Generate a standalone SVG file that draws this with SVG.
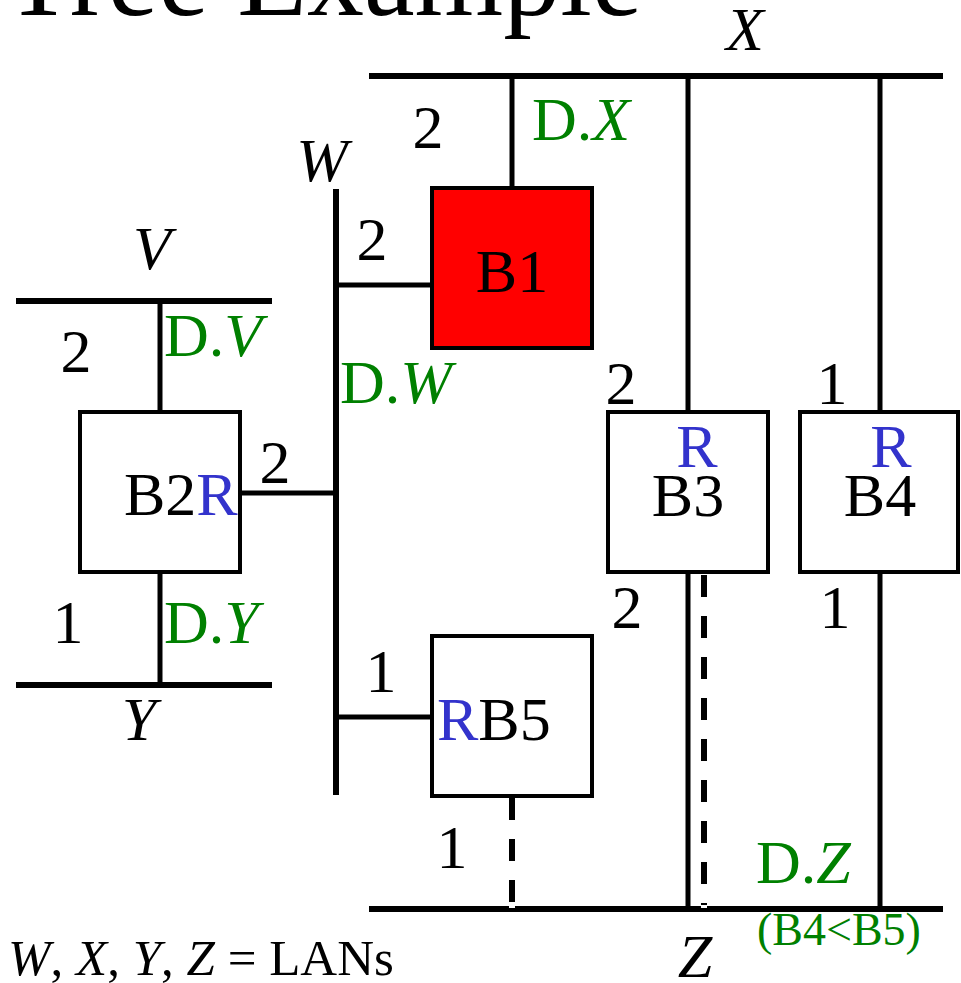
<svg xmlns="http://www.w3.org/2000/svg" width="961" height="983" viewBox="0 0 961 983">
<style>
text{font-family:"Liberation Serif","Times New Roman",serif;font-size:62px;fill:#000}
.i{font-style:italic}
.g{fill:#008000}
.b{fill:#3333cc}
.lan{stroke:#000;stroke-width:6;fill:none}
.wire{stroke:#000;stroke-width:5;fill:none}
.dash{stroke:#000;stroke-width:6;fill:none;stroke-dasharray:22 19}
.notch{stroke:#fff;stroke-width:6}
.box{stroke:#000;stroke-width:4;fill:#fff}
.mid{text-anchor:middle}
</style>
<rect width="961" height="983" fill="#fff"/>
<text x="4" y="15" style="font-size:114px">Tree Example</text>

<g id="lans">
<g id="lan-X"><line class="lan" x1="369" y1="76" x2="943" y2="76"/><text class="i mid" x="745" y="50">X</text></g>
<g id="lan-W"><line class="lan" x1="336" y1="189" x2="336" y2="795"/><text class="i mid" x="322" y="181">W</text></g>
<g id="lan-V"><line class="lan" x1="16" y1="301" x2="272" y2="301"/><text class="i mid" x="152" y="269">V</text></g>
<g id="lan-Y"><line class="lan" x1="16" y1="685" x2="272" y2="685"/><text class="i mid" x="139" y="740">Y</text></g>
<g id="lan-Z"><line class="lan" x1="369" y1="909" x2="943" y2="909"/><text class="i mid" x="695" y="977">Z</text></g>
</g>

<g id="connectors">
<line class="wire" x1="512" y1="76" x2="512" y2="188"/>
<line class="wire" x1="336" y1="285" x2="432" y2="285"/>
<line class="wire" x1="688" y1="76" x2="688" y2="412"/>
<line class="wire" x1="880" y1="76" x2="880" y2="412"/>
<line class="wire" x1="160" y1="301" x2="160" y2="412"/>
<line class="wire" x1="240" y1="493" x2="336" y2="493"/>
<line class="wire" x1="160" y1="572" x2="160" y2="685"/>
<line class="wire" x1="336" y1="717" x2="432" y2="717"/>
<line class="wire" x1="688" y1="572" x2="688" y2="909"/>
<line class="wire" x1="880" y1="572" x2="880" y2="909"/>
<line class="dash" x1="704" y1="575" x2="704" y2="906"/>
<line class="notch" x1="704" y1="905" x2="704" y2="908"/>
<line class="dash" x1="512" y1="798" x2="512" y2="906"/>
<line class="notch" x1="512" y1="905" x2="512" y2="908"/>
</g>

<g id="port-labels">
<text class="mid" x="428" y="148">2</text>
<text class="mid" x="372" y="260">2</text>
<text class="mid" x="76" y="372">2</text>
<text class="mid" x="275" y="483">2</text>
<text class="mid" x="68" y="643">1</text>
<text class="mid" x="381" y="692">1</text>
<text class="mid" x="621" y="404">2</text>
<text class="mid" x="832" y="404">1</text>
<text class="mid" x="627" y="628">2</text>
<text class="mid" x="835" y="628">1</text>
<text class="mid" x="452" y="868">1</text>
</g>

<g id="designated-labels">
<text class="g" x="532" y="140">D.<tspan class="i">X</tspan></text>
<text class="g" x="340" y="403">D.<tspan class="i">W</tspan></text>
<text class="g" x="164" y="356">D.<tspan class="i">V</tspan></text>
<text class="g" x="164" y="643">D.<tspan class="i">Y</tspan></text>
<text class="g" x="756" y="883">D.<tspan class="i">Z</tspan></text>
<text class="g" x="757" y="945" style="font-size:46px">(B4&lt;B5)</text>
</g>

<g id="B1"><rect x="432" y="188" width="160" height="160" stroke="#000" stroke-width="4" fill="#ff0000"/><text class="mid" x="512" y="292">B1</text></g>
<g id="B2"><rect class="box" x="80" y="412" width="160" height="160"/><text x="124" y="515">B2<tspan class="b">R</tspan></text></g>
<g id="B3"><rect class="box" x="608" y="412" width="160" height="160"/><text class="b mid" x="697" y="467">R</text><text class="mid" x="688" y="516">B3</text></g>
<g id="B4"><rect class="box" x="800" y="412" width="158" height="160"/><text class="b mid" x="891" y="467">R</text><text class="mid" x="880" y="516">B4</text></g>
<g id="B5"><rect class="box" x="432" y="636" width="160" height="160"/><text x="437" y="740"><tspan class="b">R</tspan>B5</text></g>

<text x="8" y="975" style="font-size:51px"><tspan class="i">W</tspan>, <tspan class="i">X</tspan>, <tspan class="i">Y</tspan>, <tspan class="i">Z</tspan> = LANs</text>
</svg>
